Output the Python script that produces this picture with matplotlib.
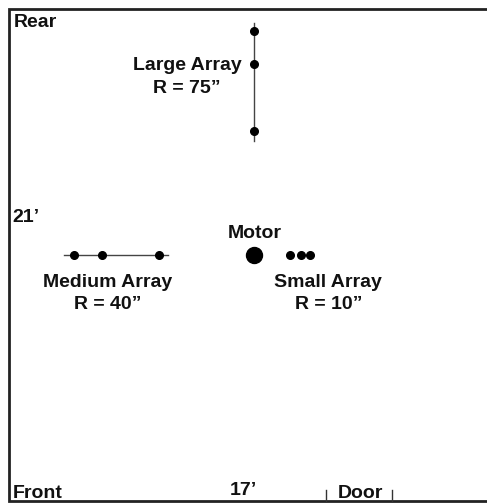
import matplotlib
matplotlib.use("Agg")
import matplotlib.pyplot as plt

# everything is in image pixels, the scan of the room layout
motor = (254, 255)

large_x = [254, 254, 254]
large_y = [31, 64, 131]
medium_x = [74, 101.5, 158.5]
medium_y = [255, 255, 255]
small_x = [289.5, 301, 310]
small_y = [255, 255, 255]

large_line_y = [22.5, 140.5]
medium_line_x = [64, 168]
door_x = [326, 392]

plt.rcParams['font.family'] = ['Liberation Sans', 'DejaVu Sans']

fig = plt.figure(figsize=(4.87, 5.03), dpi=100)
ax = fig.add_axes([0, 0, 1, 1])
ax.set_xlim(0, 487)
ax.set_ylim(503, 0)
ax.axis('off')

# room outline runs off the right side of the picture
ax.plot([520, 9, 9, 520], [9, 9, 501, 501], color='#222222', lw=2, solid_joinstyle='miter')

ax.plot([motor[0]] * 2, large_line_y, color='#444444', lw=1)
ax.plot(large_x, large_y, 'o', color='k', ms=5.5)
ax.plot(medium_line_x, [motor[1]] * 2, color='#444444', lw=1)
ax.plot(medium_x, medium_y, 'o', color='k', ms=5.5)
ax.plot(small_x, small_y, 'o', color='k', ms=5.5)
ax.plot(motor[0], motor[1], 'o', color='k', ms=11.5)

for x in door_x:
    ax.plot([x, x], [490, 501], color='#333333', lw=1)

def label(x, y, s, ha='center'):
    ax.text(x, y, s, fontsize=14, fontweight='bold', ha=ha, va='center', color='#111111')

label(14, 22, 'Rear', ha='left')
label(187, 65.5, 'Large Array')
label(187, 88.5, 'R = 75”')
label(12, 218, '21’', ha='left')
label(254.5, 233.5, 'Motor')
label(108, 282.5, 'Medium Array')
label(108, 304.5, 'R = 40”')
label(328, 282.5, 'Small Array')
label(328.5, 304.5, 'R = 10”')
label(13, 494, 'Front', ha='left')
label(243, 490.5, '17’')
label(360.5, 494, 'Door')

fig.savefig('out.png', dpi=100)
